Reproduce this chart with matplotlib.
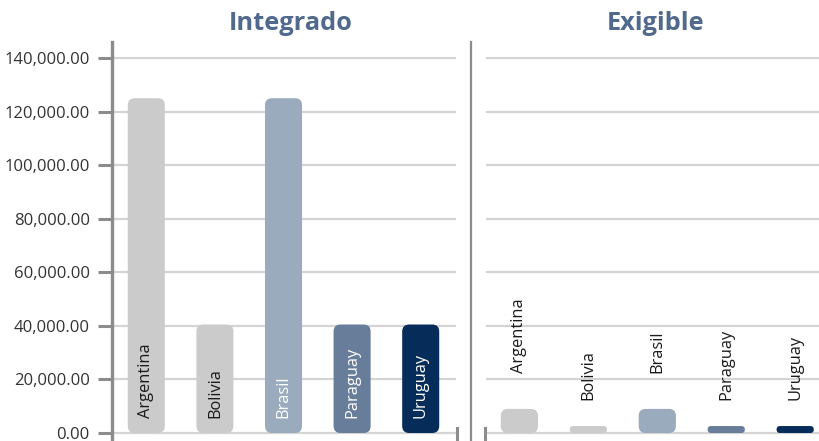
import numpy as np
import matplotlib
matplotlib.use("Agg")
import matplotlib.pyplot as plt
from matplotlib.patches import FancyBboxPatch
from matplotlib.lines import Line2D

plt.rcParams['font.family'] = ['Open Sans', 'DejaVu Sans']

countries = ['Argentina', 'Bolivia', 'Brasil', 'Paraguay', 'Uruguay']
integrado = [125000, 40500, 125000, 40500, 40500]
exigible = [9000, 2600, 9000, 2600, 2600]
colors = ['#cbcbcb', '#cbcbcb', '#9aabbe', '#687d99', '#062c5a']
text_colors = ['#1a1a1a', '#1a1a1a', '#ffffff', '#ffffff', '#ffffff']
yticks = np.arange(0, 140001, 20000)

W, H = 820, 441
fig = plt.figure(figsize=(W / 100, H / 100), dpi=100)


def px(x0, y0, x1, y1):
    # pixel box (top-left origin) -> figure fraction rect
    return [x0 / W, 1 - y1 / H, (x1 - x0) / W, (y1 - y0) / H]


def rounded_bars(ax, xs, vals, cols, width, r_px=7):
    x_per_px = np.diff(ax.get_xlim())[0] / (ax.get_position().width * W)
    y_per_px = np.diff(ax.get_ylim())[0] / (ax.get_position().height * H)
    aspect = y_per_px / x_per_px
    for x, v, c in zip(xs, vals, cols):
        r = min(r_px * x_per_px, v / aspect / 2, width / 2)
        p = FancyBboxPatch((x - width / 2, 0), width, v,
                           boxstyle=f"round,pad=0,rounding_size={r}",
                           mutation_aspect=aspect, fc=c, ec='none', zorder=3)
        ax.add_patch(p)


grid_c = '#d4d4d4'
axis_c = '#8c8c8c'

ax1 = fig.add_axes(px(112, 58, 455, 433))
ax2 = fig.add_axes(px(487, 58, 820, 433))
xs = np.arange(len(countries))

for ax in (ax1, ax2):
    ax.set_ylim(0, 140000)
    ax.set_yticks(yticks)
    for s in ax.spines.values():
        s.set_visible(False)
    ax.set_xticks([])
    ax.patch.set_alpha(0)
    for y in yticks:
        ax.axhline(y, color=grid_c, lw=1.6, zorder=1, clip_on=False)

ax1.set_xlim(-0.5, 4.5)
ax2.set_xlim(-0.47, 4.36)

ax1.set_yticklabels([f'{v:,.2f}' for v in yticks], fontsize=12, color='#333333')
ax1.tick_params(axis='y', length=10, width=2.2, color=axis_c, pad=6)
ax2.tick_params(axis='y', length=0, labelleft=False)

rounded_bars(ax1, xs, integrado, colors, 0.54)
rounded_bars(ax2, xs, exigible, colors, 0.54)

for x, name, tc in zip(xs, countries, text_colors):
    ax1.text(x, 5600, name, rotation=90, ha='center', va='bottom',
             fontsize=11.8, color=tc, zorder=4)

for x, name, v in zip(xs, countries, exigible):
    ax2.text(x, 1.6 * v + 8000, name, rotation=90, ha='center', va='bottom',
             fontsize=11.8, color='#1a1a1a', zorder=4)

# axis lines and separators
def vline(x, y0, y1, lw, c=axis_c):
    fig.add_artist(Line2D([x / W, x / W], [1 - y0 / H, 1 - y1 / H],
                          color=c, lw=lw, transform=fig.transFigure))

vline(112, 42, 441, 2.4)
vline(471, 42, 441, 1.6)
vline(457, 428, 441, 2.2)
vline(485, 428, 441, 2.2)

title_c = '#50698c'
fig.text(291 / W, 1 - 23 / H, 'Integrado', ha='center', va='center',
         fontsize=18.3, fontweight='bold', color=title_c)
fig.text(656 / W, 1 - 23 / H, 'Exigible', ha='center', va='center',
         fontsize=18.3, fontweight='bold', color=title_c)

fig.savefig('out.png', dpi=100)
